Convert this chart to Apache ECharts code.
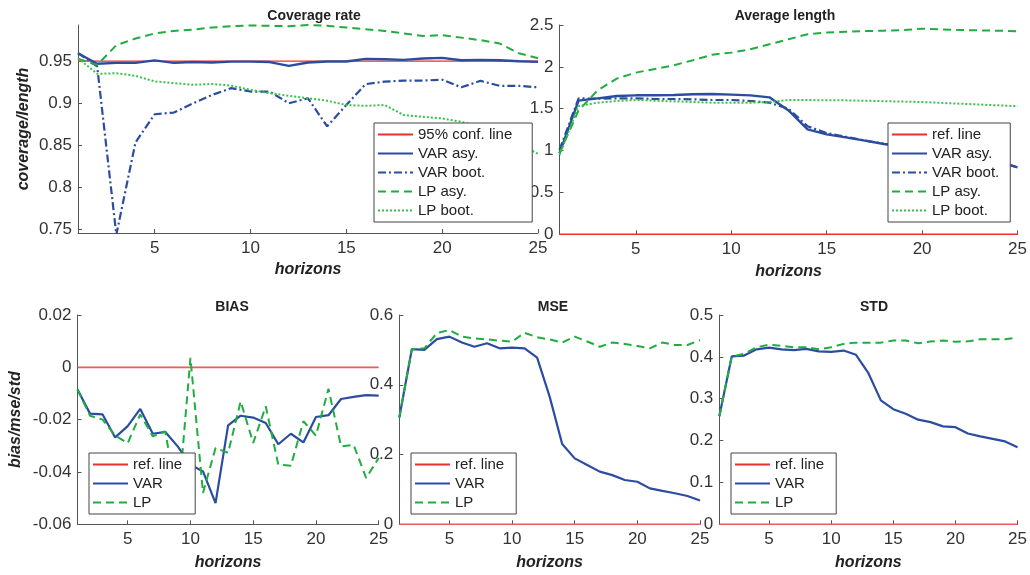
<!DOCTYPE html>
<html>
<head>
<meta charset="utf-8">
<script src="https://cdn.jsdelivr.net/npm/echarts@6/dist/echarts.min.js"></script>
<style>
  html, body { margin: 0; padding: 0; background: #fff; }
  #chart { width: 1030px; height: 575px; }
</style>
</head>
<body>
<div id="chart"></div>
<script>
// horizons 1..25
const horizons = [1, 2, 3, 4, 5, 6, 7, 8, 9, 10, 11, 12, 13, 14, 15, 16, 17, 18, 19, 20, 21, 22, 23, 24, 25];
const xTicks = [5, 10, 15, 20, 25];

// coverage rate
const confLevel = 0.95;
const covVarAsy = [0.9595, 0.947, 0.948, 0.948, 0.951, 0.948, 0.949, 0.9485, 0.9495, 0.9495, 0.949, 0.9445, 0.9485, 0.9496, 0.9496, 0.9528, 0.9524, 0.9516, 0.9532, 0.954, 0.9512, 0.9516, 0.9512, 0.95, 0.9492];
const covVarBoot = [0.9595, 0.944, 0.744, 0.8536, 0.887, 0.889, 0.900, 0.910, 0.918, 0.914, 0.914, 0.900, 0.906, 0.8726, 0.898, 0.9227, 0.9258, 0.927, 0.927, 0.928, 0.919, 0.9267, 0.9207, 0.9207, 0.919];
const covLpAsy = [0.953, 0.9456, 0.969, 0.977, 0.983, 0.986, 0.9875, 0.990, 0.9915, 0.9925, 0.992, 0.9915, 0.993, 0.992, 0.990, 0.988, 0.986, 0.983, 0.980, 0.981, 0.978, 0.975, 0.971, 0.9595, 0.9536];
const covLpBoot = [0.9536, 0.935, 0.9358, 0.9326, 0.926, 0.924, 0.922, 0.923, 0.921, 0.916, 0.912, 0.909, 0.906, 0.903, 0.898, 0.897, 0.898, 0.886, 0.884, 0.882, 0.878, 0.872, 0.864, 0.852, 0.840];
const covTicks = [0.75, 0.8, 0.85, 0.9, 0.95];

// average length
const refLevel = 0;
const lenVarAsy = [0.967, 1.596, 1.624, 1.652, 1.66, 1.66, 1.664, 1.672, 1.676, 1.668, 1.66, 1.636, 1.48, 1.254, 1.194, 1.158, 1.119, 1.079, 1.055, 1.02, 0.99, 0.95, 0.91, 0.868, 0.80];
const lenVarBoot = [1.007, 1.624, 1.62, 1.624, 1.624, 1.616, 1.616, 1.612, 1.604, 1.604, 1.592, 1.572, 1.50, 1.29, 1.21, 1.165, 1.12, 1.08, 1.055, 1.025, 0.99, 0.95, 0.91, 0.868, 0.80];
const lenLpAsy = [0.967, 1.48, 1.72, 1.86, 1.931, 1.975, 2.02, 2.08, 2.146, 2.17, 2.21, 2.27, 2.33, 2.39, 2.41, 2.42, 2.428, 2.432, 2.44, 2.456, 2.448, 2.44, 2.436, 2.432, 2.424];
const lenLpBoot = [0.947, 1.533, 1.572, 1.592, 1.604, 1.596, 1.588, 1.58, 1.572, 1.572, 1.572, 1.58, 1.604, 1.604, 1.60, 1.60, 1.595, 1.59, 1.585, 1.58, 1.57, 1.56, 1.55, 1.54, 1.53];

// bias / mse / std
const biasVar = [-0.0085, -0.0177, -0.018, -0.0268, -0.0225, -0.0159, -0.0254, -0.0247, -0.0303, -0.0372, -0.0398, -0.0519, -0.0222, -0.0185, -0.0192, -0.0213, -0.0294, -0.0254, -0.0287, -0.019, -0.0183, -0.0121, -0.0113, -0.0106, -0.0108];
const biasLp = [-0.0085, -0.0185, -0.020, -0.026, -0.029, -0.018, -0.0264, -0.0245, -0.053, 0.0036, -0.048, -0.0308, -0.0327, -0.013, -0.0289, -0.0149, -0.0372, -0.0376, -0.0206, -0.0261, -0.0082, -0.0302, -0.0296, -0.0423, -0.0346];
const mseVar = [0.306, 0.502, 0.50, 0.531, 0.538, 0.521, 0.509, 0.519, 0.5045, 0.5065, 0.5045, 0.478, 0.366, 0.230, 0.189, 0.170, 0.151, 0.141, 0.127, 0.122, 0.103, 0.0956, 0.089, 0.081, 0.068];
const mseLp = [0.306, 0.502, 0.5045, 0.548, 0.557, 0.538, 0.533, 0.530, 0.5265, 0.5236, 0.549, 0.536, 0.530, 0.521, 0.538, 0.524, 0.509, 0.521, 0.517, 0.511, 0.5045, 0.521, 0.514, 0.514, 0.528];
const stdVar = [0.258, 0.401, 0.403, 0.418, 0.422, 0.418, 0.416, 0.419, 0.413, 0.412, 0.415, 0.405, 0.361, 0.296, 0.275, 0.264, 0.25, 0.244, 0.234, 0.232, 0.217, 0.210, 0.204, 0.198, 0.184];
const stdLp = [0.258, 0.401, 0.407, 0.423, 0.429, 0.426, 0.423, 0.423, 0.418, 0.423, 0.431, 0.434, 0.434, 0.434, 0.439, 0.439, 0.4325, 0.4365, 0.439, 0.436, 0.437, 0.442, 0.442, 0.442, 0.446];

const BLUE = '#2b4c9f';
const GREEN = '#20ad3f';
const GREEN_DOT = '#33c446';
const RED = '#e8302c';
const RED_SOFT = '#f05a5a';
const AXIS = '#555';
const FONT = 'Liberation Sans, Arial, sans-serif';

const pairs = vals => horizons.map((h, i) => [h, vals[i]]);
const flat = v => [[horizons[0], v], [horizons[horizons.length - 1], v]];
const fmt = v => String(+(+v).toFixed(4));

const grids = [
  { left: 78, top: 25, width: 460, height: 208 },
  { left: 559.5, top: 25, width: 461.5, height: 209.3 },
  { left: 77.5, top: 315, width: 301.2, height: 209.3 },
  { left: 399.3, top: 315, width: 300.7, height: 209.3 },
  { left: 719.3, top: 315, width: 301.7, height: 209.3 }
];

function xAx(i, gap) {
  return {
    type: 'value', gridIndex: i, min: 1, max: 25,
    name: 'horizons', nameLocation: 'middle', nameGap: gap,
    nameTextStyle: { fontFamily: FONT, fontSize: 16, fontWeight: 'bold', fontStyle: 'italic', color: '#222' },
    axisLine: { onZero: false, lineStyle: { color: AXIS, width: 1 } },
    axisTick: { inside: true, length: 4, lineStyle: { color: AXIS }, customValues: xTicks },
    axisLabel: { fontFamily: FONT, fontSize: 17, color: '#333', margin: 7, customValues: xTicks },
    splitLine: { show: false }
  };
}

function yAx(i, min, max, interval, name, gap, custom) {
  const ax = {
    type: 'value', gridIndex: i, min: min, max: max,
    axisLine: { show: true, onZero: false, lineStyle: { color: AXIS, width: 1 } },
    axisTick: { show: true, inside: true, length: 4, lineStyle: { color: AXIS } },
    axisLabel: { fontFamily: FONT, fontSize: 17, color: '#333', margin: 6, formatter: fmt },
    splitLine: { show: false }
  };
  if (interval) ax.interval = interval;
  if (custom) {
    ax.axisTick.customValues = custom;
    ax.axisLabel.customValues = custom;
  }
  if (name) {
    ax.name = name;
    ax.nameLocation = 'middle';
    ax.nameRotate = 90;
    ax.nameGap = gap;
    ax.nameTextStyle = { fontFamily: FONT, fontSize: 16, fontWeight: 'bold', fontStyle: 'italic', color: '#222' };
  }
  return ax;
}

function line(name, idx, vals, color, width, type, z) {
  return {
    name: name, type: 'line', xAxisIndex: idx, yAxisIndex: idx,
    data: pairs(vals), symbol: 'none', showSymbol: false, z: z || 2,
    lineStyle: { color: color, width: width, type: type || 'solid' },
    itemStyle: { color: color }
  };
}

function ref(name, idx, level, color, width) {
  return {
    name: name, type: 'line', xAxisIndex: idx, yAxisIndex: idx,
    data: flat(level), symbol: 'none', showSymbol: false, z: 1,
    lineStyle: { color: color, width: width }, itemStyle: { color: color }
  };
}

function legend(names, left, top, padRight) {
  return {
    data: names, orient: 'vertical', left: left, top: top,
    itemWidth: 35, itemHeight: 10, itemGap: 4,
    padding: [4, padRight, 4, 3],
    backgroundColor: '#fff', borderColor: '#444', borderWidth: 1, borderRadius: 0,
    itemStyle: { opacity: 0 },
    textStyle: { fontFamily: FONT, fontSize: 15, lineHeight: 15, color: '#222' },
    selectedMode: false
  };
}

function title(text, x, y) {
  return {
    text: text, left: x, top: y, textAlign: 'center',
    textStyle: { fontFamily: FONT, fontSize: 14, fontWeight: 'bold', color: '#222' }
  };
}

const DASHDOT = [8, 3, 2, 3];
const DASH = [8, 5];
const DOT = [2, 2];

const option = {
  animation: false,
  backgroundColor: '#fff',
  title: [
    title('Coverage rate', 309, 4),
    title('Average length', 780, 4),
    title('BIAS', 227, 295),
    title('MSE', 548, 295),
    title('STD', 869, 295)
  ],
  grid: grids,
  xAxis: [xAx(0, 29), xAx(1, 29), xAx(2, 30), xAx(3, 30), xAx(4, 30)],
  yAxis: [
    yAx(0, 0.746, 0.993, null, 'coverage/length', 46, covTicks),
    yAx(1, 0, 2.5, 0.5),
    yAx(2, -0.06, 0.02, 0.02, 'bias/mse/std', 54),
    yAx(3, 0, 0.6, 0.2),
    yAx(4, 0, 0.5, 0.1)
  ],
  legend: [
    legend(['95% conf. line', 'VAR asy.', 'VAR boot.', 'LP asy.', 'LP boot.'], 374, 123, 20),
    legend(['ref. line', 'VAR asy.', 'VAR boot.', 'LP asy.', 'LP boot.'], 888, 123, 11),
    legend(['ref. line', 'VAR', 'LP'], 89, 453, 13),
    legend(['ref. line', 'VAR', 'LP'], 411, 453, 12),
    legend(['ref. line', 'VAR', 'LP'], 731, 453, 12)
  ],
  series: [
    ref('95% conf. line', 0, confLevel, RED, 1.2),
    line('VAR asy.', 0, covVarAsy, BLUE, 2.4),
    line('VAR boot.', 0, covVarBoot, BLUE, 2.2, DASHDOT),
    line('LP asy.', 0, covLpAsy, GREEN, 2, DASH),
    line('LP boot.', 0, covLpBoot, GREEN_DOT, 2, DOT),

    ref('ref. line', 1, refLevel, RED, 1.6),
    line('VAR asy.', 1, lenVarAsy, BLUE, 2.4),
    line('VAR boot.', 1, lenVarBoot, BLUE, 2.2, DASHDOT),
    line('LP asy.', 1, lenLpAsy, GREEN, 2, DASH),
    line('LP boot.', 1, lenLpBoot, GREEN_DOT, 2, DOT),

    ref('ref. line', 2, refLevel, RED_SOFT, 1.6),
    line('VAR', 2, biasVar, BLUE, 2.2),
    line('LP', 2, biasLp, GREEN, 2, DASH),

    ref('ref. line', 3, refLevel, RED_SOFT, 1.6),
    line('VAR', 3, mseVar, BLUE, 2.2),
    line('LP', 3, mseLp, GREEN, 2, DASH),

    ref('ref. line', 4, refLevel, RED_SOFT, 1.6),
    line('VAR', 4, stdVar, BLUE, 2.2),
    line('LP', 4, stdLp, GREEN, 2, DASH)
  ]
};

const chart = echarts.init(document.getElementById('chart'), null, { renderer: 'canvas' });
chart.setOption(option);
</script>
</body>
</html>
